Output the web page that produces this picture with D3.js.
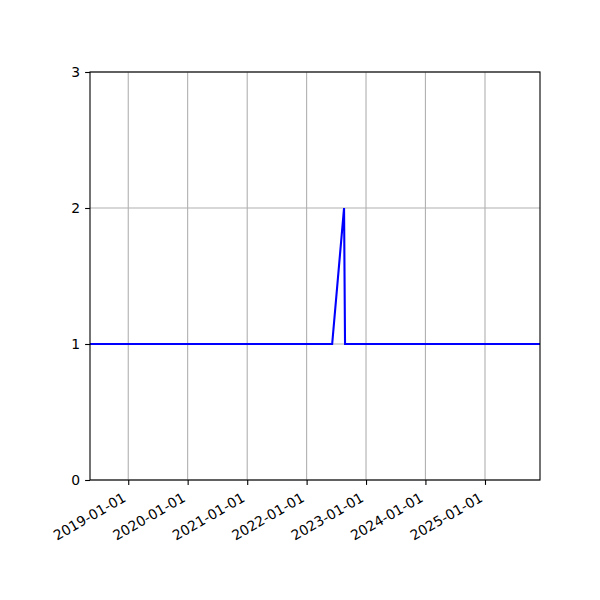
<!DOCTYPE html>
<html>
<head>
<meta charset="utf-8">
<script src="https://cdn.jsdelivr.net/npm/d3@7"></script>
<style>
  body { margin: 0; background: #fff; }
</style>
</head>
<body>
<div id="chart"></div>
<script>
// values
const dates = ["2018-05-11", "2022-06-07", "2022-08-19", "2022-08-25", "2025-12-05"];
const values = [1, 1, 2, 1, 1];
const tickDates = ["2019-01-01", "2020-01-01", "2021-01-01", "2022-01-01", "2023-01-01", "2024-01-01", "2025-01-01"];
const yTicks = [0, 1, 2, 3];

const parse = d3.utcParse("%Y-%m-%d");
const fmt = d3.utcFormat("%Y-%m-%d");

const width = 600, height = 600;
const margin = {top: 72, right: 60, bottom: 120, left: 90};
const font = "DejaVu Sans";

const svg = d3.select("#chart")
    .append("svg")
    .attr("width", width)
    .attr("height", height);

const x = d3.scaleUtc()
    .domain([parse(dates[0]), parse(dates[dates.length - 1])])
    .range([margin.left, width - margin.right]);

const y = d3.scaleLinear()
    .domain([0, 3])
    .range([height - margin.bottom, margin.top]);

const ticks = tickDates.map(parse);

// grid
svg.append("g")
    .selectAll("line")
    .data(ticks)
    .enter()
    .append("line")
        .attr("x1", d => x(d)).attr("x2", d => x(d))
        .attr("y1", margin.top).attr("y2", height - margin.bottom)
        .attr("stroke", "#b0b0b0")
        .attr("stroke-width", 1.1);

svg.append("g")
    .selectAll("line")
    .data(yTicks)
    .enter()
    .append("line")
        .attr("x1", margin.left).attr("x2", width - margin.right)
        .attr("y1", d => y(d)).attr("y2", d => y(d))
        .attr("stroke", "#b0b0b0")
        .attr("stroke-width", 1.1);

// line
const data = dates.map((d, i) => ({date: parse(d), value: values[i]}));
svg.append("path")
    .datum(data)
    .attr("fill", "none")
    .attr("stroke", "#0000ff")
    .attr("stroke-width", 2.1)
    .attr("d", d3.line().x(d => x(d.date)).y(d => y(d.value)));

// axes
const xAxis = svg.append("g")
    .attr("transform", `translate(0,${height - margin.bottom})`)
    .call(d3.axisBottom(x).tickValues(ticks).tickFormat(fmt).tickSize(4.9).tickSizeOuter(0));

xAxis.selectAll("text")
    .attr("font-family", font)
    .attr("font-size", "13.9px")
    .attr("fill", "#000")
    .attr("text-anchor", "end")
    .attr("x", 0)
    .attr("y", 0)
    .attr("dy", 0)
    .attr("transform", "translate(-1.8,20.5) rotate(-30)");

const yAxis = svg.append("g")
    .attr("transform", `translate(${margin.left},0)`)
    .call(d3.axisLeft(y).tickValues(yTicks).tickFormat(d3.format("d")).tickSize(4.9).tickPadding(4.9).tickSizeOuter(0));

yAxis.selectAll("text")
    .attr("font-family", font)
    .attr("font-size", "13.9px")
    .attr("fill", "#000");

svg.selectAll(".domain").remove();
svg.selectAll(".tick line").attr("stroke", "#000").attr("stroke-width", 1.1);

// frame
svg.append("rect")
    .attr("x", margin.left)
    .attr("y", margin.top)
    .attr("width", width - margin.left - margin.right)
    .attr("height", height - margin.top - margin.bottom)
    .attr("fill", "none")
    .attr("stroke", "#000")
    .attr("stroke-width", 1.1);
</script>
</body>
</html>
